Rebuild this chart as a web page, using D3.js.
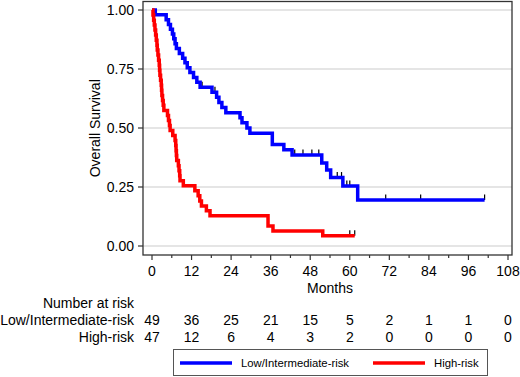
<!DOCTYPE html>
<html>
<head>
<meta charset="utf-8">
<script src="https://cdn.jsdelivr.net/npm/d3@7"></script>
<style>
  body { margin: 0; background: #fff; }
  svg text { font-family: "Liberation Sans", Arial, sans-serif; fill: #000; }
</style>
</head>
<body>
<svg id="chart" width="520" height="377"></svg>
<script>
// axis ticks
const monthTicks = [0, 12, 24, 36, 48, 60, 72, 84, 96, 108];
const survTicks = [0, 0.25, 0.5, 0.75, 1];

// Low/Intermediate-risk curve (step after)
const lowTimes = [0, 1.0, 4.3, 5.0, 5.6, 6.2, 6.6, 7.0, 7.4, 8.3, 9.3, 10.0, 10.7, 11.5, 12.6, 13.6, 14.6,
  18.2, 19.6, 20.3, 21.2, 22.4, 26.7, 27.3, 28.8, 29.7, 36.5, 40.0, 42.5, 51.5, 53.0, 54.2, 57.9, 62.4];
const lowSurv = [1, 0.98, 0.959, 0.939, 0.918, 0.898, 0.878, 0.857, 0.837, 0.816, 0.796, 0.776, 0.755, 0.735, 0.714, 0.694, 0.673,
  0.652, 0.630, 0.608, 0.587, 0.565, 0.543, 0.522, 0.500, 0.478, 0.430, 0.408, 0.386, 0.352, 0.322, 0.290, 0.254, 0.195];
const lowCensor = [15.2, 19.1, 43.3, 45.8, 48.5, 50.6, 56.2, 57.5, 59.1, 60.0, 70.9, 81.5, 100.9];
const lowEnd = 100.9;

// High-risk curve
const highTimes = [0, 0.3, 0.5, 0.7, 0.9, 1.1, 1.3, 1.5, 1.6, 1.8, 2.0, 2.2, 2.3, 2.4, 2.6, 2.8, 2.9, 3.0, 3.2, 3.4, 3.6,
  4.7, 5.0, 5.3, 5.5, 6.3, 7.0, 7.2, 7.3, 7.4, 7.5, 8.0, 8.2, 8.4, 8.5, 9.5, 13.0, 14.0, 14.5, 15.0, 16.5, 17.6,
  35.2, 36.7, 51.8];
const highSurv = [1, 0.979, 0.957, 0.936, 0.915, 0.894, 0.872, 0.851, 0.830, 0.809, 0.787, 0.766, 0.745, 0.723, 0.702, 0.681, 0.660, 0.638, 0.617, 0.596, 0.574,
  0.553, 0.532, 0.511, 0.489, 0.468, 0.447, 0.426, 0.404, 0.383, 0.362, 0.340, 0.319, 0.298, 0.277, 0.255, 0.234, 0.213, 0.191, 0.170, 0.149, 0.128,
  0.085, 0.064, 0.043];
const highCensor = [60.0, 61.5];
const highEnd = 61.5;

// number at risk
const groups = ["Low/Intermediate-risk", "High-risk"];
const lowAtRisk = [49, 36, 25, 21, 15, 5, 2, 1, 1, 0];
const highAtRisk = [47, 12, 6, 4, 3, 2, 0, 0, 0, 0];
const colors = ["#0000ff", "#ff0000"];

const svg = d3.select("#chart");
const x = d3.scaleLinear().domain([0, 108]).range([152, 508]);
const y = d3.scaleLinear().domain([0, 1]).range([246, 10]);
const frame = { left: 143, right: 512, top: 1.5, bottom: 255 };

// gridlines
svg.append("g")
  .selectAll("line")
  .data(survTicks)
  .join("line")
  .attr("x1", frame.left).attr("x2", frame.right)
  .attr("y1", (d) => y(d)).attr("y2", (d) => y(d))
  .attr("stroke", "#dcdcdc")
  .attr("stroke-width", 1.5);

function stepAt(times, surv, t) {
  const i = d3.bisectRight(times, t) - 1;
  return surv[Math.max(0, i)];
}

const line = d3.line()
  .x((d) => x(d[0]))
  .y((d) => y(d[1]))
  .curve(d3.curveStepAfter);

const curves = [
  { times: lowTimes, surv: lowSurv, censor: lowCensor, end: lowEnd },
  { times: highTimes, surv: highSurv, censor: highCensor, end: highEnd },
];

curves.forEach((c, k) => {
  const pts = c.times.map((t, i) => [t, c.surv[i]]);
  pts.push([c.end, c.surv[c.surv.length - 1]]);

  svg.append("g")
    .selectAll("line")
    .data(c.censor)
    .join("line")
    .attr("x1", (d) => x(d)).attr("x2", (d) => x(d))
    .attr("y1", (d) => y(stepAt(c.times, c.surv, d)) - 5.5)
    .attr("y2", (d) => y(stepAt(c.times, c.surv, d)))
    .attr("stroke", "#000")
    .attr("stroke-width", 1.2);

  svg.append("path")
    .datum(pts)
    .attr("d", line)
    .attr("fill", "none")
    .attr("stroke", colors[k])
    .attr("stroke-width", 3.5);
});

// frame
svg.append("rect")
  .attr("x", frame.left).attr("y", frame.top)
  .attr("width", frame.right - frame.left)
  .attr("height", frame.bottom - frame.top)
  .attr("fill", "none")
  .attr("stroke", "#333")
  .attr("stroke-width", 1.3);

// x axis
const xAxis = svg.append("g").attr("transform", `translate(0,${frame.bottom})`);
xAxis.selectAll("line.minor")
  .data(d3.range(6, 108, 12))
  .join("line")
  .attr("x1", (d) => x(d)).attr("x2", (d) => x(d))
  .attr("y1", 0).attr("y2", 3)
  .attr("stroke", "#333").attr("stroke-width", 1.2);
xAxis.selectAll("line.major")
  .data(monthTicks)
  .join("line")
  .attr("x1", (d) => x(d)).attr("x2", (d) => x(d))
  .attr("y1", 0).attr("y2", 5)
  .attr("stroke", "#333").attr("stroke-width", 1.2);
xAxis.selectAll("text")
  .data(monthTicks)
  .join("text")
  .attr("x", (d) => x(d))
  .attr("y", 21)
  .attr("text-anchor", "middle")
  .attr("font-size", 14)
  .text((d) => d);
svg.append("text")
  .attr("x", (x(0) + x(108)) / 2)
  .attr("y", 293)
  .attr("text-anchor", "middle")
  .attr("font-size", 14)
  .text("Months");

// y axis
const yAxis = svg.append("g");
yAxis.selectAll("line")
  .data(survTicks)
  .join("line")
  .attr("x1", frame.left - 5).attr("x2", frame.left)
  .attr("y1", (d) => y(d)).attr("y2", (d) => y(d))
  .attr("stroke", "#333").attr("stroke-width", 1.2);
yAxis.selectAll("text")
  .data(survTicks)
  .join("text")
  .attr("x", 134)
  .attr("y", (d) => y(d) + 5)
  .attr("text-anchor", "end")
  .attr("font-size", 14)
  .text((d) => d.toFixed(2));
svg.append("text")
  .attr("transform", `translate(100,${(frame.top + frame.bottom) / 2}) rotate(-90)`)
  .attr("text-anchor", "middle")
  .attr("font-size", 14)
  .text("Overall Survival");

// number at risk table
svg.append("text")
  .attr("x", 134).attr("y", 308)
  .attr("text-anchor", "end").attr("font-size", 14)
  .text("Number at risk");
[lowAtRisk, highAtRisk].forEach((row, k) => {
  const yy = 325 + k * 17;
  svg.append("text")
    .attr("x", 134).attr("y", yy)
    .attr("text-anchor", "end").attr("font-size", 14)
    .text(groups[k]);
  svg.append("g")
    .selectAll("text")
    .data(row)
    .join("text")
    .attr("x", (d, i) => x(monthTicks[i]))
    .attr("y", yy)
    .attr("text-anchor", "middle")
    .attr("font-size", 14)
    .text((d) => d);
});

// legend
const legend = svg.append("g");
legend.append("rect")
  .attr("x", 173.5).attr("y", 349.5)
  .attr("width", 314).attr("height", 26)
  .attr("fill", "#fff").attr("stroke", "#555").attr("stroke-width", 1);
const legendX = [180, 373];
groups.forEach((g, k) => {
  legend.append("line")
    .attr("x1", legendX[k]).attr("x2", legendX[k] + 52)
    .attr("y1", 363).attr("y2", 363)
    .attr("stroke", colors[k]).attr("stroke-width", 3.5);
  legend.append("text")
    .attr("x", legendX[k] + 61).attr("y", 367)
    .attr("font-size", 11.3)
    .text(g);
});
</script>
</body>
</html>
